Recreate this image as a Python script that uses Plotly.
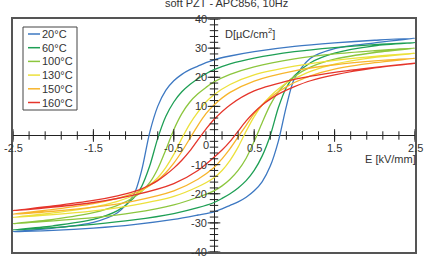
import plotly.graph_objects as go

# ---------------- data ----------------
temps = ["20°C", "60°C", "100°C", "130°C", "150°C", "160°C"]
colors = ["#3d78c2", "#1e9f55", "#8cc63e", "#ece13c", "#f7b52c", "#e5352b"]

# upper branch (field decreasing), read on this E grid
E_up = [-2.5, -2.0, -1.5, -1.2, -1.0, -0.9, -0.8, -0.7, -0.6, -0.5, -0.4,
        -0.3, -0.2, -0.1, 0.0, 0.2, 0.5, 1.0, 1.5, 2.0, 2.5]
D_up_20 = [-33.0, -31.8, -29.8, -26.5, -20.5, -12.0, 1.0, 10.0, 15.5, 18.8, 21.0,
           22.6, 23.8, 25.0, 26.0, 27.3, 28.8, 30.6, 31.8, 32.7, 33.4]
D_up_60 = [-32.4, -31.0, -28.8, -25.8, -21.5, -17.5, -10.5, -1.0, 6.5, 11.5, 15.0,
           17.5, 19.5, 21.2, 22.6, 24.6, 26.6, 28.8, 30.2, 31.2, 31.9]
D_up_100 = [-30.3, -28.8, -26.5, -24.0, -21.3, -19.2, -16.2, -11.5, -5.0, 2.0, 7.5,
            11.5, 14.3, 16.5, 18.4, 21.0, 23.6, 26.3, 28.0, 29.1, 30.0]
D_up_130 = [-28.1, -26.6, -24.6, -22.6, -20.6, -19.0, -17.0, -14.5, -11.0, -6.5, -1.0,
            4.0, 8.0, 11.5, 14.0, 17.5, 20.8, 23.8, 25.8, 27.2, 28.2]
D_up_150 = [-27.0, -25.4, -23.4, -21.6, -19.9, -18.7, -17.2, -15.3, -12.8, -9.5, -5.5,
            -1.0, 3.5, 7.5, 10.5, 14.8, 18.7, 22.2, 24.3, 25.6, 26.5]
D_up_160 = [-25.8, -24.2, -22.3, -20.7, -19.3, -18.3, -17.0, -15.5, -13.5, -11.2, -8.5,
            -5.3, -1.5, 2.2, 5.5, 10.5, 15.3, 19.3, 21.7, 23.4, 24.8]

# lower branch (field increasing), read on this E grid
E_low = [-2.5, -2.0, -1.5, -1.0, -0.5, -0.2, 0.0, 0.1, 0.2, 0.3, 0.4,
         0.5, 0.6, 0.7, 0.8, 0.9, 1.0, 1.2, 1.5, 2.0, 2.5]
D_low_20 = [-33.0, -32.6, -31.8, -30.6, -28.8, -27.3, -26.2, -25.2, -24.0, -22.8, -21.2,
            -19.0, -15.8, -10.5, -2.0, 10.0, 19.5, 26.5, 29.8, 31.8, 33.4]
D_low_60 = [-32.4, -31.6, -30.5, -29.0, -26.8, -24.8, -23.0, -21.6, -20.0, -18.0, -15.5,
            -12.0, -7.0, 0.0, 9.5, 16.5, 20.5, 25.0, 28.3, 30.8, 31.9]
D_low_100 = [-30.3, -29.3, -28.2, -26.5, -23.8, -21.2, -19.0, -17.3, -15.0, -12.0, -7.8,
             -2.0, 4.5, 10.5, 15.0, 18.0, 20.3, 23.5, 26.2, 28.5, 30.0]
D_low_130 = [-28.1, -27.2, -25.9, -23.9, -20.9, -17.6, -14.5, -12.0, -8.5, -4.0, 1.5,
             6.5, 10.5, 13.5, 16.0, 18.0, 19.5, 22.0, 24.5, 26.8, 28.2]
D_low_150 = [-27.0, -26.0, -24.6, -22.5, -19.0, -15.0, -11.0, -8.0, -4.5, -0.5, 3.5,
             7.5, 10.5, 13.0, 15.0, 16.7, 18.2, 20.5, 22.8, 25.0, 26.5]
D_low_160 = [-25.8, -24.6, -23.0, -20.5, -16.5, -12.0, -7.5, -5.0, -2.0, 1.5, 5.0,
             8.0, 10.5, 12.5, 14.2, 15.6, 16.8, 18.8, 20.8, 23.2, 24.8]

D_up = [D_up_20, D_up_60, D_up_100, D_up_130, D_up_150, D_up_160]
D_low = [D_low_20, D_low_60, D_low_100, D_low_130, D_low_150, D_low_160]

x_major = [-2.5, -1.5, -0.5, 0.5, 1.5, 2.5]
x_major_labels = ["-2.5", "-1.5", "-0.5", "0.5", "1.5", "2.5"]
x_minor = [round(-2.5 + 0.2 * k, 2) for k in range(26)]
y_major = [40, 30, 20, 10, -10, -20, -30, -40]
y_major_labels = ["40", "30", "20", "10", "-10", "-20", "-30", "-40"]
y_minor = list(range(-40, 41, 2))

title = "soft PZT - APC856, 10Hz"
x_title = "E [kV/mm]"
y_title = "D[µC/cm<sup>2</sup>]"

# ---------------- figure ----------------
W, H = 424, 257
ML, MR, MT, MB = 13, 9, 19, 5
PW, PH = W - ML - MR, H - MT - MB
FONT = "Liberation Sans, Arial, sans-serif"


def px2x(px):
    return (px - ML) / PW


def px2y(py):
    return (H - MB - py) / PH


fig = go.Figure()

for name, col, up, low in zip(temps, colors, D_up, D_low):
    xs = list(reversed(E_up)) + E_low[1:]
    ys = list(reversed(up)) + low[1:]
    fig.add_trace(go.Scatter(x=xs, y=ys, mode="lines", name=name,
                             line=dict(color=col, width=1.3, shape="spline", smoothing=0.8),
                             showlegend=False, hoverinfo="skip"))

# tick marks on the axes through zero
fig.add_trace(go.Scatter(x=x_minor, y=[0] * len(x_minor), mode="markers",
                         marker=dict(symbol="line-ns", size=6, line=dict(color="#222", width=1)),
                         showlegend=False, hoverinfo="skip", cliponaxis=False))
fig.add_trace(go.Scatter(x=x_major, y=[0] * len(x_major), mode="markers",
                         marker=dict(symbol="line-ns", size=9, line=dict(color="#222", width=1)),
                         showlegend=False, hoverinfo="skip", cliponaxis=False))
fig.add_trace(go.Scatter(x=[0] * len(y_minor), y=y_minor, mode="markers",
                         marker=dict(symbol="line-ew", size=6, line=dict(color="#222", width=1)),
                         showlegend=False, hoverinfo="skip", cliponaxis=False))
fig.add_trace(go.Scatter(x=[0] * len(y_major), y=y_major, mode="markers",
                         marker=dict(symbol="line-ew", size=9, line=dict(color="#222", width=1)),
                         showlegend=False, hoverinfo="skip", cliponaxis=False))

ann = []
for xv, lab in zip(x_major, x_major_labels):
    ann.append(dict(x=xv, y=0, text=lab, showarrow=False, xanchor="center", yanchor="top",
                    yshift=-4, font=dict(size=11, color="#333", family=FONT)))
for yv, lab in zip(y_major, y_major_labels):
    ann.append(dict(x=0, y=yv, text=lab, showarrow=False, xanchor="right", yanchor="middle",
                    xshift=-5, font=dict(size=11, color="#333", family=FONT)))
ann.append(dict(x=0, y=0, text="0", showarrow=False, xanchor="right", yanchor="top",
                xshift=-3, yshift=-1, font=dict(size=11, color="#333", family=FONT)))
ann.append(dict(x=0, y=40, text=y_title, showarrow=False, xanchor="left", yanchor="top",
                xshift=9, yshift=-5, font=dict(size=11, color="#333", family=FONT)))
ann.append(dict(x=2.5, y=0, text=x_title, showarrow=False, xanchor="right", yanchor="top",
                xshift=3, yshift=-15, font=dict(size=11, color="#333", family=FONT)))
ann.append(dict(xref="paper", yref="paper", x=px2x(226), y=1, text=title, showarrow=False,
                xanchor="center", yanchor="bottom", yshift=8,
                font=dict(size=11, color="#333", family=FONT)))

# legend drawn manually
shapes = [dict(type="rect", xref="paper", yref="paper", x0=px2x(23), x1=px2x(77),
               y0=px2y(110), y1=px2y(27), line=dict(color="#444", width=1),
               fillcolor="white", layer="above")]
for i, (name, col) in enumerate(zip(temps, colors)):
    py = 34 + 13.7 * i
    shapes.append(dict(type="line", xref="paper", yref="paper", x0=px2x(28), x1=px2x(40),
                       y0=px2y(py), y1=px2y(py), line=dict(color=col, width=1.5), layer="above"))
    ann.append(dict(xref="paper", yref="paper", x=px2x(40), y=px2y(py), text=name,
                    showarrow=False, xanchor="left", yanchor="middle",
                    font=dict(size=11, color="#333", family=FONT)))

fig.update_layout(
    width=W, height=H, margin=dict(l=ML, r=MR, t=MT, b=MB),
    paper_bgcolor="white", plot_bgcolor="white",
    showlegend=False, annotations=ann, shapes=shapes,
    xaxis=dict(range=[-2.5, 2.5], showgrid=False, showticklabels=False, ticks="",
               zeroline=True, zerolinecolor="#222", zerolinewidth=1,
               showline=True, mirror=True, linecolor="#555", linewidth=1.5),
    yaxis=dict(range=[-40, 40], showgrid=False, showticklabels=False, ticks="",
               zeroline=True, zerolinecolor="#222", zerolinewidth=1,
               showline=True, mirror=True, linecolor="#555", linewidth=1.5),
)

fig.write_html("out.html")
